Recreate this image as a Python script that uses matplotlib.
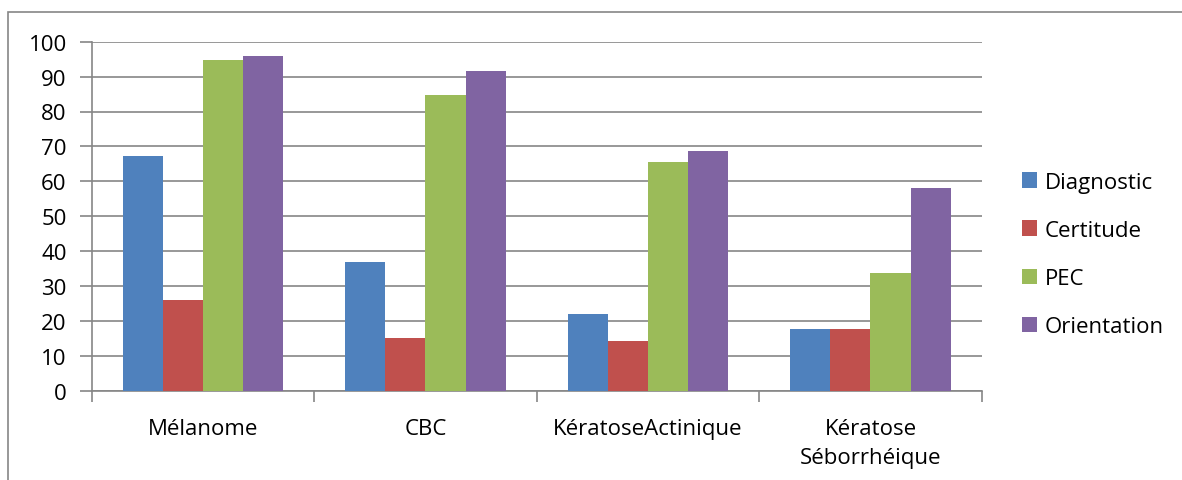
import numpy as np
import matplotlib.pyplot as plt
from matplotlib.patches import Rectangle

categories = ['Mélanome', 'CBC', 'KératoseActinique', 'Kératose\nSéborrhéique']
series = ['Diagnostic', 'Certitude', 'PEC', 'Orientation']
diagnostic = [67.2, 36.8, 21.9, 17.7]
certitude = [26.1, 15.0, 14.3, 17.7]
pec = [94.8, 84.7, 65.4, 33.6]
orientation = [95.8, 91.6, 68.8, 58.0]
colors = ['#4f81bd', '#c0504d', '#9bbb59', '#8064a2']

plt.rcParams['font.family'] = ['Open Sans', 'DejaVu Sans']
fs = 16

fig = plt.figure(figsize=(11.82, 4.81), dpi=100)
W, H = 1182, 481
ax = fig.add_axes([91.7 / W, 1 - 391.7 / H, (981.7 - 91.7) / W, (391.7 - 42.7) / H])

# cadre extérieur du graphique
fig.patches.append(Rectangle((8 / W, -0.1), 1.2, 1 - 13 / H + 0.1, transform=fig.transFigure,
                             fill=False, edgecolor='#868686', linewidth=1.2))

x = np.arange(len(categories))
width = 0.18
values = [diagnostic, certitude, pec, orientation]
for i, (name, vals) in enumerate(zip(series, values)):
    ax.bar(x + (i - 1.5) * width, vals, width, color=colors[i], label=name, zorder=3)

ax.set_xlim(-0.5, len(categories) - 0.5)
ax.set_ylim(0, 100)
ax.set_yticks(range(0, 101, 10))
ax.yaxis.grid(True, color='#868686', linewidth=1.2, zorder=0)
ax.set_axisbelow(True)

ax.set_xticks(x)
ax.set_xticklabels(categories, fontsize=fs, linespacing=1.5)
ax.set_xticks(np.arange(-0.5, len(categories), 1), minor=True)
ax.tick_params(axis='x', which='major', length=0, pad=20)
ax.tick_params(axis='x', which='minor', length=8, color='#868686', width=1.2)
ax.tick_params(axis='y', length=9, color='#868686', width=1.2, labelsize=fs, pad=9)

for s in ['top', 'right']:
    ax.spines[s].set_visible(False)
for s in ['left', 'bottom']:
    ax.spines[s].set_color('#868686')
    ax.spines[s].set_linewidth(1.2)

ax.legend(loc='center left', bbox_to_anchor=(1.035, 0.39), frameon=False, fontsize=fs,
          handlelength=0.7, handleheight=0.7, handletextpad=0.35, labelspacing=1.22,
          borderaxespad=0)

fig.savefig('out.png', dpi=100)
